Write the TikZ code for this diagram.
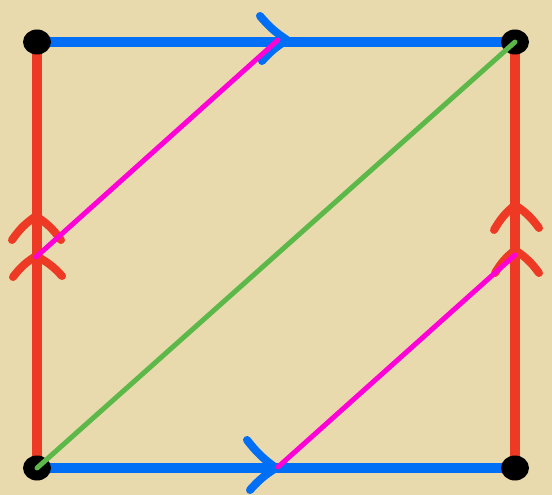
\documentclass[tikz,border=0pt]{standalone}
\usetikzlibrary{positioning,shapes.geometric}
\definecolor{parch}{HTML}{E9DAAE}
\definecolor{edgered}{HTML}{EE3A24}
\definecolor{edgeblue}{HTML}{006EF5}
\definecolor{diagmag}{HTML}{FF00D6}
\definecolor{diaggreen}{HTML}{5DB84A}
\begin{document}
\begin{tikzpicture}[
    x=1pt,y=-1pt,
    vert/.style={fill=black,ellipse,inner sep=0pt,minimum width=28pt,minimum height=25pt},
    redge/.style={draw=edgered,line width=10pt},
    bedge/.style={draw=edgeblue,line width=10pt},
    chev/.style={line width=8pt,line cap=round,line join=round},
    cut/.style={line width=5pt,line cap=round}
]
\fill[parch] (0,0) rectangle (552,495);
\useasboundingbox (0,0) rectangle (552,495);

% corners of the square
\coordinate (tl) at (37,42);
\coordinate (tr) at (515,42);
\coordinate (bl) at (37,468);
\coordinate (br) at (515,468);

% points where the magenta cuts meet the edges
\coordinate (lcut) at (36,257);
\coordinate (tcut) at (278,40);
\coordinate (bcut) at (278,467);
\coordinate (rcut) at (515,255);

\draw[redge] (bl) -- (tl);
\draw[redge] (br) -- (tr);
\draw[bedge] (tl) -- (tr);
\draw[bedge] (bl) -- (br);

% arrow marks
\draw[chev,edgeblue] (260,16) to[bend right=8] (287,40) to[bend right=8] (262,61);
\draw[chev,edgeblue] (247,440) to[bend right=8] (276,468) to[bend right=8] (250,490);
\draw[chev,edgered] (12,240) to[bend left=10] (36,216) to[bend left=10] (61,240);
\draw[chev,edgered] (13,277) to[bend left=10] (36,256) to[bend left=10] (62,276);
\draw[chev,edgered] (494,230) to[bend left=10] (515,205) to[bend left=10] (539,228);
\draw[chev,edgered] (495,273) to[bend left=10] (515,250) to[bend left=10] (539,273);

\node[vert] (v1) at (tl) {};
\node[vert] (v2) at (tr) {};
\node[vert] (v3) at (bl) {};
\node[vert] (v4) at (br) {};

\draw[cut,diaggreen] (v3.center) -- (v2.center);
\draw[cut,diagmag] (lcut) -- (tcut);
\draw[cut,diagmag] (bcut) -- (rcut);
\end{tikzpicture}
\end{document}
